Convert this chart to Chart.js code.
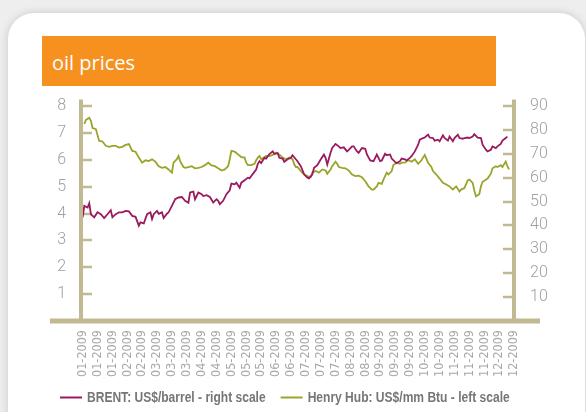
<!DOCTYPE html>
<html>
<head>
<meta charset="utf-8">
<script src="https://cdn.jsdelivr.net/npm/chart.js@4.4.1/dist/chart.umd.min.js"></script>
<style>
  html, body { margin:0; padding:0; }
  body { width:586px; height:412px; overflow:hidden; background:#eeeeee; position:relative; }
  #card { position:absolute; left:8px; top:13px; width:577px; height:440px; background:#fff; border-radius:26px; box-shadow:0 0 9px rgba(0,0,0,0.16); }
  #title { position:absolute; left:42px; top:36px; width:454px; height:50px; background:#f6901f; color:#fff;
           font-family:'Open Sans', 'Noto Sans', sans-serif; font-size:20px; line-height:54px; padding-left:10px; box-sizing:border-box; overflow:hidden; }
  #c { position:absolute; left:0; top:0; }
</style>
</head>
<body>
<div id="card"></div>
<div id="title">oil prices</div>
<canvas id="c" width="586" height="412"></canvas>
<script>
// ---- data (x = trading day of 2009) ----
const tickLabels = ['01-2009','01-2009','01-2009','02-2009','02-2009','03-2009','03-2009','03-2009','04-2009','04-2009',
  '05-2009','05-2009','05-2009','06-2009','06-2009','07-2009','07-2009','07-2009','08-2009','08-2009',
  '09-2009','09-2009','09-2009','10-2009','10-2009','11-2009','11-2009','11-2009','12-2009','12-2009'];
const tradingDaysPerTick = 9;

const brentDay = [0,1,3,4,5,7,9,11,13,15,17,18,20,22,24,26,28,30,32,34,35,37,39,41,42,43,45,46,48,49,51,52,54,56,58,60,62,64,
  65,67,68,70,72,73,75,77,79,81,82,83,85,87,89,90,92,93,95,96,98,100,101,103,105,106,107,108,110,111,113,115,116,118,119,121,122,124,126,127,129,
  130,132,134,136,137,139,140,142,144,146,147,148,150,151,153,155,156,158,160,161,163,164,166,167,169,171,172,174,176,177,178,180,181,183,184,186,187,189,190,192,193,
  195,196,198,199,201,203,204,206,207,209,210,212,213,215,216,218,219,221,222,224,225,227,228,230,231,233,234,236,237,239,241,242,244,245,247,248,250,251,253,254,256,257];
const brentUSDperBarrel = [43.4,48.2,47.5,49.3,44.7,43.4,45.5,44.7,43.1,44.7,46.4,43.4,44.7,45.5,45.5,46.1,45.9,44.0,43.6,39.9,41.3,40.9,44.7,45.5,42.7,44.7,46.1,44.9,45.5,43.1,44.9,45.5,48.2,51.0,51.7,51.9,50.3,49.5,
  53.8,54.2,51.0,53.8,53.1,52.3,52.7,51.9,49.6,51.0,50.3,48.9,50.3,53.1,54.7,57.5,57.2,57.9,55.8,57.9,58.9,60.0,59.7,61.6,63.4,65.8,66.9,66.1,68.3,68.0,69.9,71.0,69.9,70.3,68.3,68.0,66.6,67.7,68.3,69.4,67.7,
  66.9,64.8,61.4,60.0,59.7,61.4,64.1,65.2,67.6,69.7,68.3,65.5,70.4,72.4,74.1,73.1,72.4,72.7,71.0,71.6,73.1,73.1,71.0,70.4,72.4,72.1,69.7,67.2,66.9,68.3,69.7,66.9,67.2,70.0,69.4,69.7,68.0,66.6,66.1,66.9,68.0,
  67.7,67.2,68.3,69.0,71.0,73.8,75.9,76.6,76.8,78.0,76.8,76.6,75.5,75.9,75.2,77.7,76.6,75.5,77.2,75.2,76.6,78.0,76.6,76.3,76.6,76.8,76.6,77.2,78.2,76.8,76.6,73.8,71.7,71.0,71.7,73.1,72.4,73.1,74.1,75.5,76.6,77.2];

const henryDay = [1,2,4,5,6,8,10,12,14,16,18,20,22,24,26,28,30,32,34,36,38,40,42,44,46,48,50,52,54,55,57,58,59,61,62,64,
  66,68,70,72,74,76,78,80,82,84,86,88,89,90,92,94,96,98,99,100,102,104,105,106,107,108,110,111,113,115,117,119,121,123,125,127,128,129,
  130,132,134,136,138,139,141,143,145,147,148,150,151,153,154,155,157,159,161,163,165,167,169,171,173,175,176,178,179,181,182,184,185,187,188,190,192,193,
  195,197,199,201,203,205,206,207,209,211,212,214,216,218,220,222,224,226,228,229,231,233,234,236,237,238,240,241,242,244,245,247,248,250,251,253,254,256,257,258];
const henryUSDperMMBtu = [7.33,7.48,7.56,7.45,7.18,7.14,6.70,6.68,6.52,6.48,6.52,6.52,6.45,6.48,6.55,6.58,6.33,6.30,6.08,5.89,5.98,5.95,6.02,5.93,5.76,5.70,5.73,5.64,5.52,5.89,6.02,6.14,5.95,5.73,5.70,5.73,
  5.76,5.68,5.70,5.73,5.80,5.89,5.79,5.76,5.68,5.60,5.64,5.76,6.02,6.33,6.30,6.20,6.10,6.08,5.89,5.80,5.80,5.85,5.98,6.08,6.14,6.02,6.10,6.14,6.14,6.18,6.27,6.20,6.08,6.02,6.08,6.02,5.83,5.73,
  5.73,5.58,5.45,5.39,5.35,5.52,5.58,5.52,5.64,5.60,5.48,5.64,5.76,5.93,5.85,5.73,5.70,5.68,5.60,5.45,5.39,5.41,5.35,5.20,5.01,4.89,4.89,5.01,5.14,5.10,5.26,5.52,5.45,5.58,5.80,5.89,5.85,5.89,
  5.89,5.98,5.93,6.02,5.85,5.98,6.08,6.18,5.89,5.73,5.58,5.45,5.30,5.14,5.08,5.01,4.89,5.01,4.82,4.89,4.95,5.23,5.26,5.14,4.85,4.64,4.72,5.01,5.18,5.26,5.30,5.48,5.68,5.76,5.73,5.80,5.73,5.93,5.76,5.64];

const seriesNames = ['BRENT: US$/barrel - right scale', 'Henry Hub: US$/mm Btu - left scale'];
const leftMax = 8, rightMax = 90;

// ---- styles ----
const AXIS = '#c1b991';
const BRENT_COLOR = '#9a1a5f';
const HH_COLOR = '#9ba42a';
const tickFont = { family: "Roboto, 'Liberation Sans', sans-serif", size: 16, weight: 300 };
const narrow = "'Liberation Sans Narrow', 'DejaVu Sans Condensed', 'Liberation Sans', sans-serif";

const toPoints = (xs, ys) => xs.map((x, i) => ({ x, y: ys[i] }));

const axisDecor = {
  id: 'axisDecor',
  beforeDatasetsDraw(chart) {
    const { ctx, chartArea: a, scales } = chart;
    ctx.save();
    ctx.strokeStyle = AXIS;
    ctx.lineWidth = 2.5;
    ctx.beginPath();
    scales.yL.ticks.forEach(t => {
      if (t.value === 0) return;
      const y = Math.round(scales.yL.getPixelForValue(t.value));
      ctx.moveTo(a.left + 2, y); ctx.lineTo(a.left + 11, y);
    });
    scales.yR.ticks.forEach(t => {
      if (t.value === 0) return;
      const y = Math.round(scales.yR.getPixelForValue(t.value));
      ctx.moveTo(a.right - 11, y); ctx.lineTo(a.right - 2, y);
    });
    ctx.stroke();
    ctx.restore();
  },
  afterDatasetsDraw(chart) {
    const { ctx, chartArea: a } = chart;
    ctx.save();
    ctx.fillStyle = AXIS;
    ctx.fillRect(a.left - 2, a.top - 6.5, 4, a.bottom - a.top + 6.5);
    ctx.fillRect(a.right - 2, a.top - 6.5, 4, a.bottom - a.top + 6.5);
    ctx.fillRect(50, a.bottom - 2.5, 490, 5);
    ctx.restore();
  },
  afterDraw(chart) {
    // legend: coloured line + condensed bold label for each dataset
    const { ctx } = chart;
    const sx = 0.86;
    let x = 60;
    const yLine = 397.5, yText = 402;
    ctx.save();
    chart.data.datasets.forEach(d => {
      ctx.strokeStyle = d.borderColor;
      ctx.lineWidth = 2;
      ctx.beginPath(); ctx.moveTo(x, yLine); ctx.lineTo(x + 22, yLine); ctx.stroke();
      x += 27;
      ctx.save();
      ctx.translate(x, yText);
      ctx.scale(sx, 1);
      ctx.font = "bold 14px 'Liberation Sans', Arial, sans-serif";
      ctx.fillStyle = '#767676';
      ctx.textBaseline = 'alphabetic';
      ctx.fillText(d.label, 0, 0);
      const w = ctx.measureText(d.label).width * sx;
      ctx.restore();
      x += w + 15;
    });
    ctx.restore();
  }
};

new Chart(document.getElementById('c'), {
  type: 'line',
  data: {
    datasets: [
      { label: seriesNames[0], data: toPoints(brentDay, brentUSDperBarrel), yAxisID: 'yR',
        borderColor: BRENT_COLOR, backgroundColor: BRENT_COLOR, borderWidth: 1.8, pointRadius: 0, tension: 0 },
      { label: seriesNames[1], data: toPoints(henryDay, henryUSDperMMBtu), yAxisID: 'yL',
        borderColor: HH_COLOR, backgroundColor: HH_COLOR, borderWidth: 1.8, pointRadius: 0, tension: 0 }
    ]
  },
  options: {
    responsive: false,
    animation: false,
    devicePixelRatio: 1,
    layout: { padding: { top: 106, left: 0, right: 13, bottom: 30 } },
    scales: {
      x: {
        type: 'linear', min: -1, max: (tickLabels.length - 1) * tradingDaysPerTick,
        afterBuildTicks: s => { s.ticks = tickLabels.map((_, i) => ({ value: i * tradingDaysPerTick })); },
        afterFit: s => { s.height = 61; },
        grid: { display: false, drawTicks: false },
        border: { display: false },
        ticks: {
          autoSkip: false, minRotation: 90, maxRotation: 90, padding: 9,
          color: '#a8a8a8', font: { family: narrow, size: 12.5 },
          callback: (v, i) => tickLabels[i]
        }
      },
      yL: {
        position: 'left', min: 0, max: leftMax,
        afterFit: s => { s.width = 81; },
        grid: { display: false, drawTicks: false },
        border: { display: false },
        ticks: { stepSize: 1, padding: 15, color: '#a0a0a0', font: tickFont, callback: v => v === 0 ? '' : v }
      },
      yR: {
        position: 'right', min: 0, max: rightMax,
        afterFit: s => { s.width = 59; },
        grid: { display: false, drawTicks: false },
        border: { display: false },
        ticks: { stepSize: 10, padding: 16, color: '#a0a0a0', font: tickFont, callback: v => v === 0 ? '' : v }
      }
    },
    plugins: {
      tooltip: { enabled: false },
      legend: { display: false }
    }
  },
  plugins: [axisDecor]
});
</script>
</body>
</html>
